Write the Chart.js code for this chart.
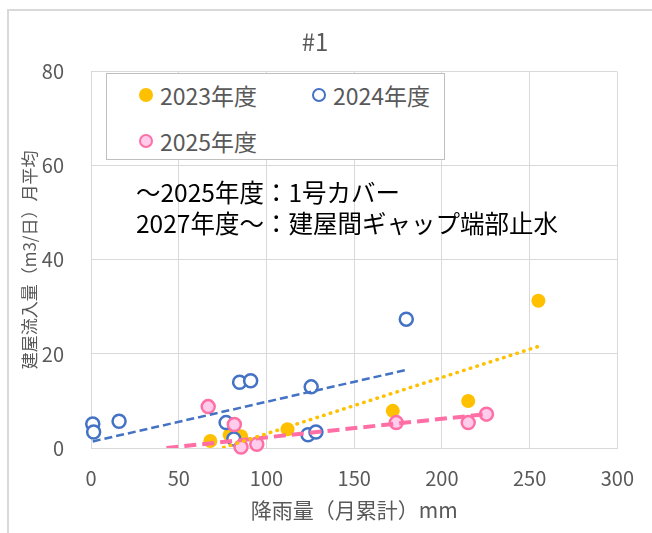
<!DOCTYPE html>
<html lang="ja">
<head>
  <meta charset="UTF-8">
  <title>#1</title>
  <script src="https://cdn.jsdelivr.net/npm/chart.js"></script>
  <style>
    body {
      margin: 0;
      font-family: "Noto Sans CJK JP", "Noto Sans", sans-serif;
      background: #fff;
    }

    #wrap {
      position: relative;
      width: 652px;
      height: 533px;
      overflow: hidden;
    }

    #frame {
      position: absolute;
      left: 7px;
      top: 9px;
      width: 700px;
      height: 600px;
      border: 2px solid #d9d9d9;
    }

    canvas {
      position: absolute;
      left: 0;
      top: 0;
    }

    #legend {
      position: absolute;
      left: 106px;
      top: 73px;
      width: 337px;
      height: 85px;
      border: 1px solid #bfbfbf;
      background: #fff;
    }

    .item {
      position: absolute;
      height: 24px;
      line-height: 24px;
      font-size: 23px;
      color: #595959;
      white-space: nowrap;
    }

    .item span.mark {
      position: absolute;
      left: 0;
      top: 5px;
      width: 14px;
      height: 14px;
      box-sizing: border-box;
      border-radius: 50%;
    }

    .item span.txt {
      position: absolute;
      left: 21px;
      top: 0;
    }

    #note {
      position: absolute;
      left: 136px;
      top: 176px;
      font-size: 24.5px;
      line-height: 31px;
      color: #000;
      white-space: nowrap;
    }
  </style>
</head>
<body>
  <div id="wrap">
    <div id="frame"></div>
    <canvas id="chart" width="652" height="533"></canvas>
    <div id="legend"></div>
    <div id="note">～2025年度：1号カバー<br>2027年度～：建屋間ギャップ端部止水</div>
  </div>
  <script>
    // 降雨量（月累計）mm と 建屋流入量（m3/日）月平均
    const seriesNames = ["2023年度", "2024年度", "2025年度"];

    const rain2023 = [68, 79, 85.5, 112, 172, 215, 255];
    const flow2023 = [1.5, 2.8, 2.5, 4.0, 7.9, 10.0, 31.3];

    const rain2024 = [1, 1.5, 16, 77, 81.4, 84.7, 91, 123.7, 125.5, 128.2, 179.7];
    const flow2024 = [5.1, 3.4, 5.7, 5.4, 1.9, 14.0, 14.3, 2.8, 13.0, 3.4, 27.4];

    const rain2025 = [66.8, 81.7, 85.5, 94.5, 174, 215, 225.4];
    const flow2025 = [8.8, 5.0, 0.2, 0.8, 5.4, 5.4, 7.2];

    // 近似直線（図から読んだ両端）
    const trendRain2023 = [68, 255];
    const trendFlow2023 = [-0.8, 21.6];
    const trendRain2024 = [1, 179.7];
    const trendFlow2024 = [1.4, 16.6];
    const trendRain2025 = [43, 226.5];
    const trendFlow2025 = [0, 7.25];

    const xTicks = [0, 50, 100, 150, 200, 250, 300];
    const yTicks = [0, 20, 40, 60, 80];

    const orange = "#FFC000";
    const blue = "#4472C4";
    const pink = "#FF6FA5";
    const pinkFill = "#FFCCEB";
    const gray = "#595959";
    const font = "'Noto Sans CJK JP', 'Noto Sans', sans-serif";

    const pts = (xs, ys) => xs.map((x, i) => ({ x: x, y: ys[i] }));

    // 凡例
    const legendItems = [
      { bg: orange, bd: orange, left: 32, top: 9 },
      { bg: "#fff", bd: blue, left: 205, top: 9 },
      { bg: pinkFill, bd: pink, left: 32, top: 55 },
    ];
    const legend = document.getElementById("legend");
    seriesNames.forEach((name, i) => {
      const it = legendItems[i];
      const div = document.createElement("div");
      div.className = "item";
      div.style.left = it.left + "px";
      div.style.top = it.top + "px";
      div.innerHTML = `<span class="mark" style="background:${it.bg};border:2.5px solid ${it.bd}"></span><span class="txt">${name}</span>`;
      legend.appendChild(div);
    });

    new Chart(document.getElementById("chart"), {
      type: "scatter",
      data: {
        datasets: [
          {
            label: "trend2023",
            data: pts(trendRain2023, trendFlow2023),
            showLine: true,
            borderColor: orange,
            borderWidth: 3.5,
            borderDash: [0.5, 6.5],
            borderCapStyle: "round",
            pointRadius: 0,
            clip: 0,
            order: 1,
          },
          {
            label: "trend2024",
            data: pts(trendRain2024, trendFlow2024),
            showLine: true,
            borderColor: blue,
            borderWidth: 2.5,
            borderDash: [8, 4],
            pointRadius: 0,
            clip: 0,
            order: 1,
          },
          {
            label: "trend2025",
            data: pts(trendRain2025, trendFlow2025),
            showLine: true,
            borderColor: pink,
            borderWidth: 4,
            borderDash: [12, 6],
            pointRadius: 0,
            clip: 0,
            order: 1,
          },
          {
            label: seriesNames[2],
            data: pts(rain2025, flow2025),
            backgroundColor: pinkFill,
            borderColor: pink,
            borderWidth: 2.5,
            pointRadius: 6.5,
            clip: false,
            order: 2,
          },
          {
            label: seriesNames[1],
            data: pts(rain2024, flow2024),
            backgroundColor: "#fff",
            borderColor: blue,
            borderWidth: 2.5,
            pointRadius: 6.5,
            clip: false,
            order: 3,
          },
          {
            label: seriesNames[0],
            data: pts(rain2023, flow2023),
            backgroundColor: orange,
            borderColor: orange,
            borderWidth: 0,
            pointRadius: 7,
            clip: false,
            order: 4,
          },
        ],
      },
      options: {
        responsive: false,
        animation: false,
        layout: { padding: { left: 8, right: 30, top: 0, bottom: 0 } },
        plugins: {
          legend: { display: false },
          tooltip: { enabled: false },
          title: {
            display: true,
            text: "#1",
            color: gray,
            font: { family: font, size: 24, weight: "normal" },
            padding: { top: 27, bottom: 16 },
          },
        },
        scales: {
          x: {
            min: 0,
            max: 300,
            afterBuildTicks: (s) => { s.ticks = xTicks.map(v => ({ value: v })); },
            afterFit: (s) => { s.height = 85; },
            grid: { color: "#d9d9d9", drawTicks: false },
            border: { color: "#d9d9d9" },
            ticks: { color: gray, padding: 18, font: { family: font, size: 20 } },
            title: {
              display: true,
              text: "降雨量（月累計）mm",
              color: gray,
              font: { family: font, size: 21 },
              padding: { top: 0, bottom: 10 },
            },
          },
          y: {
            min: 0,
            max: 80,
            afterBuildTicks: (s) => { s.ticks = yTicks.map(v => ({ value: v })); },
            afterFit: (s) => { s.width = 83; },
            grid: { color: "#d9d9d9", drawTicks: false },
            border: { color: "#d9d9d9" },
            ticks: { color: gray, padding: 27, font: { family: font, size: 20 } },
            title: {
              display: true,
              text: "建屋流入量（m3/日）月平均",
              color: gray,
              font: { family: font, size: 17 },
              padding: { top: 11, bottom: 0 },
            },
          },
        },
      },
    });
  </script>
</body>
</html>
